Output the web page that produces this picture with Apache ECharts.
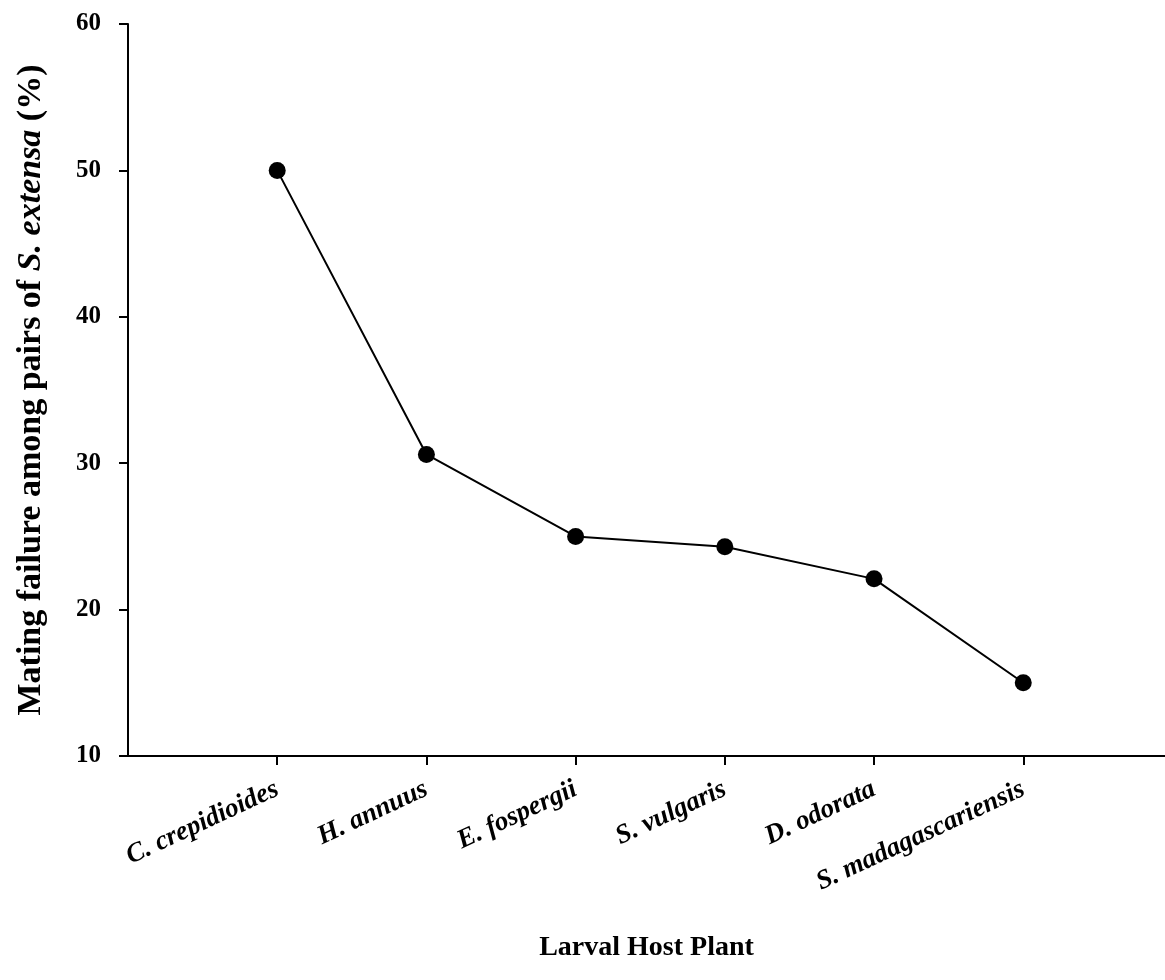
<!DOCTYPE html>
<html>
<head>
<meta charset="utf-8">
<script src="https://cdn.jsdelivr.net/npm/echarts@6/dist/echarts.min.js"></script>
<style>
  html, body { margin: 0; padding: 0; background: #fff; }
  #chart { width: 1165px; height: 980px; }
</style>
</head>
<body>
<div id="chart"></div>
<script>
const categories = ['C. crepidioides', 'H. annuus', 'E. fospergii', 'S. vulgaris', 'D. odorata', 'S. madagascariensis'];
const failureValues = [50.0, 30.6, 25.0, 24.3, 22.1, 15.0];
const yTicks = { min: 10, max: 60, interval: 10 };

const FONT = '"Liberation Serif", "Times New Roman", serif';
const chart = echarts.init(document.getElementById('chart'), null, { renderer: 'canvas' });

const points = failureValues.map((v, i) => [i + 1, v]);

chart.setOption({
  animation: false,
  backgroundColor: '#fff',
  grid: { left: 128, right: 0, top: 24, bottom: 224, containLabel: false },
  xAxis: {
    type: 'value',
    min: 0,
    max: 6.95,
    interval: 1,
    splitLine: { show: false },
    axisLine: { show: true, lineStyle: { color: '#000', width: 2 } },
    axisTick: {
      show: true, length: 9, inside: false,
      lineStyle: { color: '#000', width: 2 },
      customValues: categories.map((c, i) => i + 1)
    },
    axisLabel: {
      show: true,
      customValues: categories.map((c, i) => i + 1),
      formatter: v => categories[Math.round(v) - 1] || '',
      rotate: 25,
      margin: 32,
      fontFamily: FONT,
      fontSize: 27,
      fontWeight: 'bold',
      fontStyle: 'italic',
      color: '#000'
    },
    name: 'Larval Host Plant',
    nameLocation: 'middle',
    nameGap: 178,
    nameTextStyle: { fontFamily: FONT, fontSize: 28, fontWeight: 'bold', color: '#000' }
  },
  yAxis: {
    type: 'value',
    min: yTicks.min,
    max: yTicks.max,
    interval: yTicks.interval,
    splitLine: { show: false },
    axisLine: { show: true, lineStyle: { color: '#000', width: 2 } },
    axisTick: { show: true, length: 9, inside: false, lineStyle: { color: '#000', width: 2 } },
    axisLabel: {
      margin: 27,
      fontFamily: FONT,
      fontSize: 25,
      fontWeight: 'bold',
      color: '#000'
    },
    name: '{b|Mating failure among pairs of }{i|S. extensa}{b| (%)}',
    nameLocation: 'middle',
    nameGap: 80,
    nameTextStyle: {
      fontFamily: FONT, fontSize: 34, fontWeight: 'bold', color: '#000',
      rich: {
        b: { fontFamily: FONT, fontSize: 34, fontWeight: 'bold', color: '#000' },
        i: { fontFamily: FONT, fontSize: 34, fontWeight: 'bold', fontStyle: 'italic', color: '#000' }
      }
    }
  },
  series: [{
    type: 'line',
    data: points,
    symbol: 'circle',
    symbolSize: 17,
    itemStyle: { color: '#000' },
    lineStyle: { color: '#000', width: 2 },
    clip: false
  }]
});
</script>
</body>
</html>
